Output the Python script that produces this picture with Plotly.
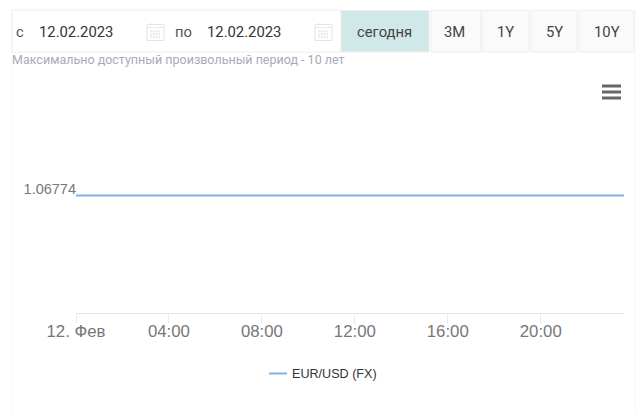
import plotly.graph_objects as go

# --- data ---
series_name = "EUR/USD (FX)"
dates = ["2023-02-12 00:00", "2023-02-12 23:35"]
values = [1.06774, 1.06774]
x_tick_vals = ["2023-02-12 00:00", "2023-02-12 04:00", "2023-02-12 08:00",
               "2023-02-12 12:00", "2023-02-12 16:00", "2023-02-12 20:00"]
x_tick_text = ["12. Фев", "04:00", "08:00", "12:00", "16:00", "20:00"]
y_tick_vals = [1.06774]
y_tick_text = ["1.06774"]
date_from = "12.02.2023"
date_to = "12.02.2023"
note = "Максимально доступный произвольный период - 10 лет"
buttons = ["сегодня", "3M", "1Y", "5Y", "10Y"]

W, H = 636, 414
L, R, T, B = 76, 624, 78, 313


def px(x):
    return (x - L) / (R - L)


def py(y):
    return (B - y) / (B - T)


shapes = []
annots = []


def rect(x0, y0, x1, y1, fill="rgba(0,0,0,0)", line="rgba(0,0,0,0)", w=1):
    shapes.append(dict(type="rect", xref="paper", yref="paper", layer="below",
                       x0=px(x0), x1=px(x1), y0=py(y0), y1=py(y1),
                       fillcolor=fill, line=dict(color=line, width=w)))


def seg(x0, y0, x1, y1, color, w=1):
    shapes.append(dict(type="line", xref="paper", yref="paper", layer="below",
                       x0=px(x0), x1=px(x1), y0=py(y0), y1=py(y1),
                       line=dict(color=color, width=w)))


def text(x, y, s, size=14.8, color="#444", anchor="left", family="Roboto"):
    annots.append(dict(xref="paper", yref="paper", x=px(x), y=py(y), text=s,
                       showarrow=False, xanchor=anchor, yanchor="middle",
                       font=dict(family=family, size=size, color=color),
                       borderpad=0, borderwidth=0))


def calendar(x0):
    y0 = 24.5
    rect(x0, y0, x0 + 17, y0 + 16, fill="#ffffff", line="#dfe6ec", w=1)
    seg(x0, y0 + 3, x0 + 17, y0 + 3, "#e8edf2")
    for r in range(3):
        for c in range(4):
            xx = x0 + 3.5 + c * 2.6
            yy = y0 + 6 + r * 2.8
            rect(xx, yy, xx + 1.7, yy + 1.8, fill="#e3e7ec")
    for k in (4, 13):
        seg(x0 + k, y0 - 1.5, x0 + k, y0 + 1, "#dfe6ec")


# page frame and toolbar
seg(11.5, 10, 11.5, 414, "#f7f7f7")
seg(635, 10, 635, 414, "#f7f7f7")
rect(12, 10, 341, 52, fill="#ffffff", line="#eeeeee")
text(16, 31.5, "с", color="#555555")
text(39, 31.5, date_from, color="#333333")
calendar(147)
text(175, 31.5, "по", color="#555555")
text(207, 31.5, date_to, color="#333333")
calendar(315)

btn_edges = [(341, 429), (431, 481), (482, 529), (531, 577), (579, 634)]
label_nudge = [-1, -1.5, 0, 0, 0]
for i, ((a, b), label) in enumerate(zip(btn_edges, buttons)):
    rect(a, 10.5, b, 52, fill="#d1e8e8" if i == 0 else "#fafafa",
         line="#eeeeee", w=1)
    text((a + b) / 2 + label_nudge[i], 31.5, label, color="#444444", anchor="center")

text(12, 60, note, size=12.5, color="#a9a9bd")

# context menu icon
for yy in (86, 92, 98):
    seg(602, yy, 621, yy, "#666666", 3)

# legend key and label
seg(269, 373.5, 287, 373.5, "#7cb5ec", 2)
text(292, 373.5, series_name, size=12.6, color="#333333", family="Liberation Sans")

fig = go.Figure(go.Scatter(x=dates, y=values, mode="lines", name=series_name,
                           line=dict(color="#7cb5ec", width=2),
                           showlegend=False))

fig.update_layout(
    width=W, height=H, autosize=False,
    margin=dict(l=L, r=W - R, t=T, b=H - B, pad=0),
    paper_bgcolor="#ffffff", plot_bgcolor="#ffffff",
    shapes=shapes, annotations=annots, showlegend=False,
    xaxis=dict(type="date", range=[dates[0], dates[1]], tickmode="array",
               tickvals=x_tick_vals, ticktext=x_tick_text, showgrid=False,
               zeroline=False, showline=True, linecolor="#dfe5f5", linewidth=1,
               ticks="outside", ticklen=10, tickcolor="#e6ebf7", tickwidth=1,
               ticklabelstandoff=-7,
               tickfont=dict(family="Liberation Sans", size=16.8, color="#777777")),
    yaxis=dict(range=[1.06774 - 0.1, 1.06774 + 0.1], tickmode="array",
               tickvals=y_tick_vals, ticktext=y_tick_text, showgrid=False,
               zeroline=False, showline=False, ticks="", ticklen=0,
               ticklabelstandoff=-1, ticklabelshift=-7,
               tickfont=dict(family="Liberation Sans", size=14.5, color="#777777")),
)

fig.write_html("out.html", config={"displayModeBar": False},
               post_script="document.body.style.margin='0';document.body.style.overflow='hidden';")
